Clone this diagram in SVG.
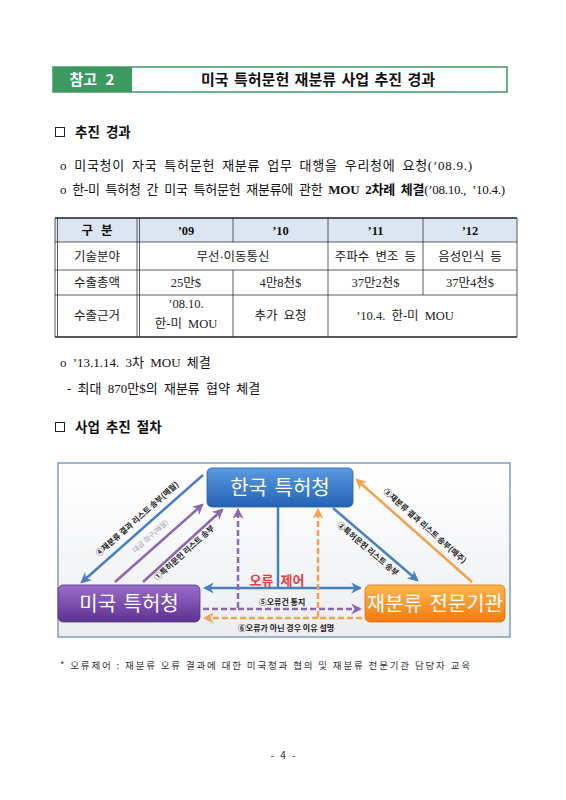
<svg xmlns="http://www.w3.org/2000/svg" width="566" height="800" viewBox="0 0 566 800">
<defs>
<style>
.sans{font-family:"Noto Sans CJK KR","Noto Sans",sans-serif}
.serif{font-family:"Liberation Serif","Noto Sans CJK KR",serif}
.body{font-size:13px;fill:#111;word-spacing:3px}
.cell{font-size:12.5px;fill:#222;text-anchor:middle;word-spacing:3px}
.th{font-size:12.5px;font-weight:bold;fill:#111;text-anchor:middle;word-spacing:5px}
.grid{stroke:#333;stroke-width:0.8;fill:none}
.node{font-size:20px;fill:#fff;text-anchor:middle;word-spacing:3px}
.lbl{font-size:8px;font-weight:bold;fill:#222;text-anchor:middle}
.bl{stroke:#4a7ec2;stroke-width:2.5;fill:none}
.pl{stroke:#8a68b4;stroke-width:2.5;fill:none}
.ol{stroke:#f2a24e;stroke-width:2.5;fill:none}
.dash{stroke-dasharray:6 3}
</style>
<linearGradient id="gBlue" x1="0" y1="0" x2="0" y2="1"><stop offset="0" stop-color="#5b9be0"/><stop offset="1" stop-color="#2562b4"/></linearGradient>
<linearGradient id="gPurple" x1="0" y1="0" x2="0" y2="1"><stop offset="0" stop-color="#9a6ccc"/><stop offset="1" stop-color="#5e3392"/></linearGradient>
<linearGradient id="gOrange" x1="0" y1="0" x2="0" y2="1"><stop offset="0" stop-color="#ffb64a"/><stop offset="1" stop-color="#f07a12"/></linearGradient>
<linearGradient id="gBg" x1="0" y1="0" x2="0" y2="1"><stop offset="0" stop-color="#ffffff"/><stop offset="1" stop-color="#eceef1"/></linearGradient>
<marker id="aB" viewBox="0 0 10 10" refX="8" refY="5" markerWidth="11" markerHeight="11" markerUnits="userSpaceOnUse" orient="auto-start-reverse"><path d="M0,0 L10,5 L0,10 L3,5 z" fill="#4a7ec2"/></marker>
<marker id="aP" viewBox="0 0 10 10" refX="8" refY="5" markerWidth="11" markerHeight="11" markerUnits="userSpaceOnUse" orient="auto"><path d="M0,0 L10,5 L0,10 L3,5 z" fill="#8a68b4"/></marker>
<marker id="aO" viewBox="0 0 10 10" refX="8" refY="5" markerWidth="11" markerHeight="11" markerUnits="userSpaceOnUse" orient="auto"><path d="M0,0 L10,5 L0,10 L3,5 z" fill="#f2a24e"/></marker>
</defs>
<rect width="566" height="800" fill="#fff"/>

<g id="title">
<rect x="53" y="67" width="454" height="25" fill="#fff" stroke="#3c9a62" stroke-width="1.5"/>
<rect x="53" y="67" width="79" height="25" fill="#3c9a62"/>
<text x="92" y="85" class="sans" font-size="15" font-weight="bold" fill="#fff" text-anchor="middle" word-spacing="5">참고 2</text>
<text x="318" y="85" class="sans" font-size="15" font-weight="bold" fill="#111" text-anchor="middle" word-spacing="2">미국 특허문헌 재분류 사업 추진 경과</text>
</g>

<g id="section1">
<rect x="55.5" y="127.5" width="9" height="9" fill="none" stroke="#222" stroke-width="1"/>
<text x="75" y="137" class="sans" font-size="13.5" font-weight="bold" fill="#111" word-spacing="3">추진 경과</text>
<text x="60" y="170" class="serif body" textLength="412" lengthAdjust="spacing">o 미국청이 자국 특허문헌 재분류 업무 대행을 우리청에 요청(’08.9.)</text>
<text x="60" y="194" class="serif body" textLength="445" lengthAdjust="spacing">o 한-미 특허청 간 미국 특허문헌 재분류에 관한 <tspan font-weight="bold">MOU 2차례 체결</tspan>(’08.10., ’10.4.)</text>
</g>

<g id="table">
<rect x="55" y="218" width="462" height="24" fill="#dce6f2"/>
<line x1="55" y1="218" x2="517" y2="218" stroke="#222" stroke-width="1.5"/>
<line x1="55" y1="337" x2="517" y2="337" stroke="#222" stroke-width="1.5"/>
<line x1="55" y1="218" x2="55" y2="337" class="grid"/>
<line x1="57.5" y1="218" x2="57.5" y2="337" class="grid"/>
<line x1="517" y1="218" x2="517" y2="337" class="grid"/>
<line x1="137" y1="218" x2="137" y2="337" class="grid"/>
<line x1="139.5" y1="218" x2="139.5" y2="337" class="grid"/>
<line x1="55" y1="242" x2="517" y2="242" class="grid"/>
<line x1="55" y1="270" x2="517" y2="270" class="grid"/>
<line x1="55" y1="295" x2="517" y2="295" class="grid"/>
<line x1="233" y1="218" x2="233" y2="242" class="grid"/>
<line x1="233" y1="270" x2="233" y2="337" class="grid"/>
<line x1="328" y1="218" x2="328" y2="337" class="grid"/>
<line x1="423" y1="218" x2="423" y2="295" class="grid"/>
<text x="97" y="234.5" class="serif th">구 분</text>
<text x="186" y="234.5" class="serif th">’09</text>
<text x="280.5" y="234.5" class="serif th">’10</text>
<text x="375.5" y="234.5" class="serif th">’11</text>
<text x="470" y="234.5" class="serif th">’12</text>
<text x="97" y="260.5" class="serif cell">기술분야</text>
<text x="233" y="260.5" class="serif cell">무선·이동통신</text>
<text x="375.5" y="260.5" class="serif cell">주파수 변조 등</text>
<text x="470" y="260.5" class="serif cell">음성인식 등</text>
<text x="97" y="287" class="serif cell">수출총액</text>
<text x="186" y="287" class="serif cell">25만$</text>
<text x="280.5" y="287" class="serif cell">4만8천$</text>
<text x="375.5" y="287" class="serif cell">37만2천$</text>
<text x="470" y="287" class="serif cell">37만4천$</text>
<text x="97" y="320" class="serif cell">수출근거</text>
<text x="186" y="307.5" class="serif cell">’08.10.</text>
<text x="186" y="327.5" class="serif cell">한-미 MOU</text>
<text x="280.5" y="320" class="serif cell">추가 요청</text>
<text x="405" y="320" class="serif cell">’10.4. 한-미 MOU</text>
</g>

<g id="notes">
<text x="60" y="367" class="serif body">o ’13.1.14. 3차 MOU 체결</text>
<text x="67" y="393" class="serif body">- 최대 870만$의 재분류 협약 체결</text>
</g>

<g id="section2">
<rect x="55.5" y="422.5" width="9" height="9" fill="none" stroke="#222" stroke-width="1"/>
<text x="75" y="432" class="sans" font-size="13.5" font-weight="bold" fill="#111" word-spacing="3">사업 추진 절차</text>
</g>

<rect id="frame" x="58" y="463" width="452" height="174" fill="url(#gBg)" stroke="#7f9cc0" stroke-width="1.5"/>

<g id="connectors">
<line x1="203" y1="475" x2="82" y2="582" class="bl" marker-end="url(#aB)"/>
<line x1="115" y1="582" x2="202" y2="505" class="pl" marker-end="url(#aP)"/>
<line x1="143" y1="582" x2="222" y2="510" class="pl" marker-end="url(#aP)"/>
<line x1="333" y1="508" x2="417" y2="580" class="bl" marker-end="url(#aB)"/>
<line x1="472" y1="582" x2="357" y2="480" class="ol" marker-end="url(#aO)"/>
<line x1="278" y1="507" x2="278" y2="588" class="bl"/>
<line x1="205" y1="588" x2="360" y2="588" class="bl" marker-start="url(#aB)" marker-end="url(#aB)"/>
<polyline points="203,609 238,609 238,510" class="pl dash" marker-end="url(#aP)"/>
<line x1="238" y1="609" x2="360" y2="609" class="pl dash" marker-end="url(#aP)"/>
<polyline points="362,618 318,618 318,510" class="ol dash" marker-end="url(#aO)"/>
<line x1="318" y1="618" x2="205" y2="618" class="ol dash" marker-end="url(#aO)"/>
<text class="sans lbl" transform="translate(139,521) rotate(-41.5)">④재분류 결과 리스트 송부(매월)</text>
<text class="sans" font-size="7" fill="#a0a0a8" text-anchor="middle" transform="translate(152,538) rotate(-41.5)">대금 청구(매월)</text>
<text class="sans lbl" transform="translate(186,555) rotate(-42)">①특허문헌 리스트 송부</text>
<text class="sans lbl" transform="translate(366,551) rotate(40.6)">②특허문헌 리스트 송부</text>
<text class="sans lbl" transform="translate(423,528) rotate(41.6)">③재분류 결과 리스트 송부(매주)</text>
<text x="277" y="585" class="sans" font-size="13" font-weight="bold" fill="#e0403c" text-anchor="middle" word-spacing="4">오류 제어</text>
<text x="282" y="605" class="sans lbl" font-size="9">⑤오류건 통지</text>
<text x="286" y="631" class="sans lbl" font-size="9">⑥오류가 아닌 경우 이유 설명</text>
</g>

<g id="node-kipo">
<rect x="207" y="468" width="146" height="39" rx="5" fill="url(#gBlue)" stroke="#2a5ea8" stroke-width="0.8"/>
<text x="280" y="495" class="sans node">한국 특허청</text>
</g>
<g id="node-uspto">
<rect x="58" y="585" width="142" height="37" rx="5" fill="url(#gPurple)" stroke="#5a3290" stroke-width="0.8"/>
<text x="129" y="611" class="sans node">미국 특허청</text>
</g>
<g id="node-agency">
<rect x="365" y="585" width="140" height="37" rx="5" fill="url(#gOrange)" stroke="#e07010" stroke-width="0.8"/>
<text x="435" y="611" class="sans node">재분류 전문기관</text>
</g>

<g id="footnote">
<text x="60" y="669" class="sans" font-size="9.5" fill="#333" textLength="410" lengthAdjust="spacing">* 오류제어 : 재분류 오류 결과에 대한 미국청과 협의 및 재분류 전문기관 담당자 교육</text>
</g>
<text id="page" x="283" y="759" class="sans" font-size="10" fill="#333" text-anchor="middle" word-spacing="4">- 4 -</text>
</svg>
